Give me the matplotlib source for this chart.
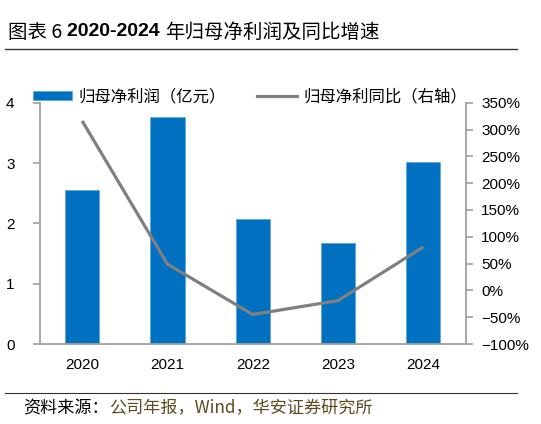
import matplotlib
matplotlib.use("Agg")
import matplotlib.pyplot as plt
from matplotlib.lines import Line2D

plt.rcParams['font.family'] = ['Liberation Sans', 'Noto Sans CJK SC', 'DejaVu Sans']

years = ["2020", "2021", "2022", "2023", "2024"]
profit = [2.55, 3.77, 2.07, 1.67, 3.01]          # 归母净利润 (亿元)
yoy = [316, 49, -45, -19, 81]                    # 归母净利同比 (%)
left_ticks = [0, 1, 2, 3, 4]
right_ticks = [-100, -50, 0, 50, 100, 150, 200, 250, 300, 350]

BLUE = "#0070C0"
GRAY = "#808080"
CJK = ['Noto Sans CJK SC', 'DejaVu Sans']

fig = plt.figure(figsize=(5.41, 4.24), dpi=100)
W, H = 541, 424
ax = fig.add_axes([39.5 / W, 1 - 344 / H, (466 - 39.5) / W, (344 - 102.7) / H])
ax2 = ax.twinx()

x = list(range(len(years)))
bars = ax.bar(x, profit, width=0.4, color=BLUE, edgecolor="#5fa8e0", linewidth=0.6, zorder=2)
line, = ax2.plot(x, yoy, color=GRAY, linewidth=2.3, solid_capstyle="butt", zorder=3)

ax.set_xlim(-0.5, 4.5)
ax.set_ylim(0, 4)
ax.set_yticks(left_ticks)
ax2.set_ylim(-100, 350)
ax2.set_yticks(right_ticks)
ax2.set_yticklabels([f"{v}%".replace("-", "\u2212") for v in right_ticks])
ax.set_xticks(x)
ax.set_xticklabels(years)

for a in (ax, ax2):
    a.spines['top'].set_visible(False)
    for s in ('left', 'right', 'bottom'):
        a.spines[s].set_color("#a0a0a0")
        a.spines[s].set_linewidth(1.3)
ax.spines['right'].set_visible(False)
ax2.spines['left'].set_visible(False)
ax2.spines['bottom'].set_visible(False)

ax.tick_params(axis='x', length=0, pad=10, labelsize=11)
ax.tick_params(axis='y', length=5, width=1.2, color="#a0a0a0", pad=13, labelsize=11)
ax2.tick_params(axis='y', length=5, width=1.2, color="#a0a0a0", pad=6, labelsize=11)
ax.set_zorder(ax2.get_zorder() - 1)
ax.patch.set_visible(True)
ax2.patch.set_visible(False)

handles = [bars, Line2D([], [], color=GRAY, linewidth=2.3)]
labels = ["归母净利润（亿元）", "归母净利同比（右轴）"]
fig.legend(handles, labels, loc="center left", bbox_to_anchor=(33 / W, 1 - 97 / H), ncol=2,
           frameon=False, prop={'family': CJK, 'size': 11.8}, handlelength=2.4, handleheight=0.45,
           handletextpad=0.4, columnspacing=1.9, borderaxespad=0, borderpad=0)

# title in runs: normal / bold / normal
fig.canvas.draw()
renderer = fig.canvas.get_renderer()
runs = [("图表 6 ", 'normal', CJK), ("2020-2024 ", 'bold', ['Liberation Sans', 'DejaVu Sans']),
        ("年归母净利润及同比增速", 'normal', CJK)]
xpos = 8 / W
for txt, wt, fam in runs:
    t = fig.text(xpos, 1 - 32 / H, txt, fontsize=14, fontweight=wt, family=fam, va='center', ha='left')
    bb = t.get_window_extent(renderer)
    xpos += bb.width / W

fig.add_artist(Line2D([5 / W, 517 / W], [1 - 49 / H, 1 - 49 / H], color="#333333", linewidth=1.0))
fig.add_artist(Line2D([5 / W, 517 / W], [1 - 393 / H, 1 - 393 / H], color="#333333", linewidth=0.8))

s1 = fig.text(23 / W, 1 - 408 / H, "资料来源：", fontsize=12.3, family=CJK, va='center', ha='left', color="black")
bb = s1.get_window_extent(renderer)
fig.text(23 / W + bb.width / W, 1 - 408 / H, "公司年报，Wind，华安证券研究所", fontsize=12.3, family=CJK,
         va='center', ha='left', color="#5b4a1e")

fig.savefig("out.png", dpi=100)
